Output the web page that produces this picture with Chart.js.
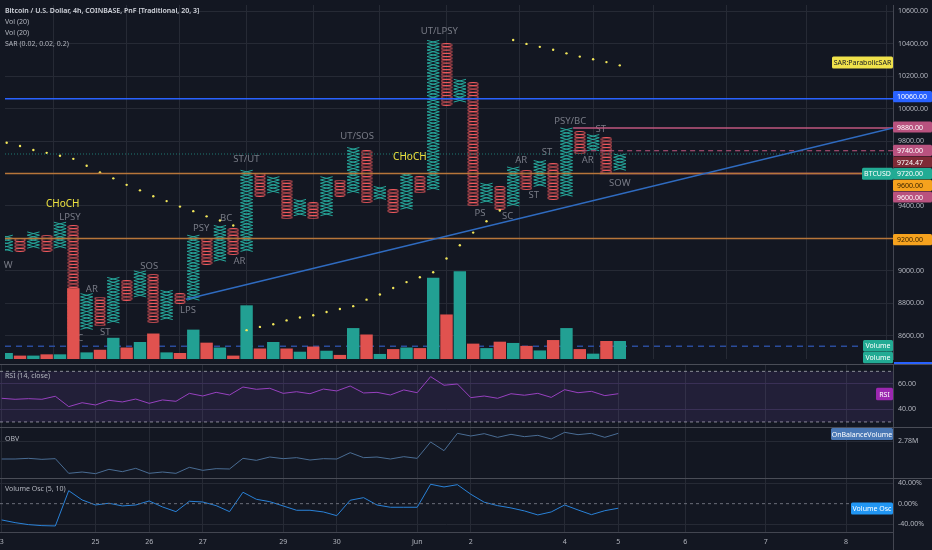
<!DOCTYPE html>
<html><head><meta charset="utf-8">
<script src="https://cdn.jsdelivr.net/npm/chart.js@4.4.1/dist/chart.umd.min.js"></script>
<style>
body{margin:0;background:#131722;overflow:hidden}
#wrap{position:relative;width:932px;height:550px;background:#131722}
canvas{position:absolute;left:0}
.sep{position:absolute;left:0;width:932px;height:1px;background:#4a4d57}
</style></head>
<body><div id="wrap">
<canvas id="cMain" width="932" height="364" style="top:0px"></canvas>
<canvas id="cRsi" width="932" height="63" style="top:364px"></canvas>
<canvas id="cObv" width="932" height="51" style="top:427px"></canvas>
<canvas id="cOsc" width="932" height="72" style="top:478px"></canvas>
<div class="sep" style="top:364px"></div>
<div class="sep" style="top:427px"></div>
<div class="sep" style="top:478px"></div>
<div style="position:absolute;left:893px;top:532px;width:1px;height:18px;background:#434651"></div>
</div>
<script>
// ---------------- DATA ----------------
const BOX = 20;
const colType = ['X','O','X','O','X','O','X','O','X','O','X','O','X','O','X','O','X','O','X','O','X','O','X','O','X','O','X','O','X','O','X','O','X','O','X','O','X','O','X','O','X','O','X','O','X','O','X'];
const colLow  = [9120,9120,9140,9120,9140,8620,8640,8660,8680,8820,8840,8680,8700,8800,8820,9040,9060,9100,9120,9460,9480,9320,9340,9320,9340,9460,9480,9420,9440,9360,9380,9480,9500,10020,10040,9400,9420,9380,9400,9500,9520,9440,9460,9720,9740,9600,9620];
const colHigh = [9220,9200,9240,9220,9300,9280,8860,8840,8960,8940,9000,8980,8880,8860,9220,9200,9280,9260,9620,9600,9580,9560,9440,9420,9580,9560,9760,9740,9520,9500,9600,9580,10420,10400,10180,10160,9540,9520,9640,9620,9680,9660,9880,9860,9840,9820,9720];
const volume  = [62,35,35,48,48,728,68,95,218,118,175,262,68,62,302,168,118,35,552,108,175,108,75,128,85,42,318,252,52,102,118,112,835,458,902,158,112,178,165,135,88,195,318,102,55,185,185];
const volMA = 130;
const sar = [9789,9769,9745,9727,9709,9690,9648,9607,9570,9530,9496,9460,9430,9396,9368,9336,9310,9280,
             8635,8655,8671,8695,8713,8727,8747,8765,8783,8823,8855,8895,8931,8961,8992,9076,9158,9236,9306,9372,
             10422,10398,10380,10362,10340,10320,10304,10286,10266];
const rsi = [48.7,47.9,48.4,47.9,50.3,42.1,45.2,43.4,47.1,45.8,48.1,44.7,47.4,46.3,52.6,50.5,53.4,51.3,57.6,55.8,
             56.6,52.6,53.9,52.3,56.0,54.5,58.4,52.9,53.4,51.3,55.3,53.1,65.8,59.0,60.0,49.2,50.5,48.7,52.3,51.1,
             52.6,49.4,55.5,53.1,54.2,50.8,52.3];
const obvM = [2.24,2.24,2.26,2.23,2.25,1.81,1.85,1.80,1.93,1.86,1.96,1.81,1.85,1.81,1.99,1.90,1.95,1.94,2.26,2.20,
              2.30,2.25,2.28,2.21,2.25,2.24,2.43,2.28,2.30,2.24,2.31,2.26,2.75,2.49,3.01,2.93,3.00,2.89,2.98,2.91,
              2.95,2.84,3.04,2.97,3.01,2.89,3.01];
const volOsc = [-32.0,-37.3,-41.2,-43.2,-43.8,25.5,7.3,-2.6,0.8,-4.5,-2.6,5.3,-6.5,-15.7,4.7,3.3,-3.9,-15.7,22.4,8.6,
                3.9,-4.5,-13.0,-13.0,-16.3,-23.6,6.7,11.8,-2.6,-7.1,-7.1,-7.1,38.1,32.8,37.3,18.5,2.8,-3.9,-8.4,-14.3,
                -22.2,-16.3,-2.6,-12.4,-21.6,-13.8,-9.0];
const tickIdx    = [0,7,11,15,21,25,31,35,42,46,51,57,63];
const tickLabels = ['3','25','26','27','29','30','Jun','2','4','5','6','7','8'];
const priceTicks = [8600,8800,9000,9200,9400,9600,9800,10000,10200,10400,10600];
const rsiTicks = [40,60];
const obvTicks = [2.78];
const oscTicks = [-40,0,40];
// horizontal levels: price, start column
const levelPrice = [10060,9600,9200,9880,9740,9600,9720];
const levelStart = [null,null,null,42.5,42.5,44.5,null];
const trendIdx = [13.45,66.5];
const trendPrice = [8825,9880];
const annText  = ['W','CHoCH','LPSY','AR','SC','ST','SOS','LPS','PSY','BC','AR','ST/UT','UT/SOS','CHoCH','UT/LPSY','PS','SC','AR','ST','ST','PSY/BC','ST','AR','SOW'];
const annIdx   = [0.12,4.2,4.75,6.39,5.32,7.39,10.69,13.6,14.6,16.46,17.46,17.99,26.29,30.25,32.46,35.52,37.58,38.6,39.55,40.54,42.28,44.57,43.6,46.0];
const annPrice = [9033,9410,9330,8887,8585,8621,9031,8757,9260,9326,9061,9685,9829,9703,10478,9354,9336,9684,9464,9733,9923,9873,9684,9540];

// ---------------- STYLE ----------------
const X_MIN = -0.127, X_MAX = 66.5;
const GRID = '#262a35', TXT = '#b2b5be', BORDER = '#434651';
const UP = '#26a69a', DN = '#ef5350';
const FONT = "'Noto Sans', sans-serif";
Chart.defaults.font.family = FONT;
Chart.defaults.animation = false;
Chart.defaults.events = [];
Chart.defaults.plugins.legend.display = false;
Chart.defaults.plugins.tooltip.enabled = false;

function xAxis(show){
  return {type:'linear', min:X_MIN, max:X_MAX, offset:false,
    grid:{color:GRID, drawTicks:false},
    border:{display:show, color:BORDER},
    ticks:{display:show, autoSkip:false, maxRotation:0, color:TXT, font:{size:7}, padding:6,
      callback:v=>{const k=tickIdx.indexOf(v); return k<0?'':tickLabels[k];}},
    afterBuildTicks:s=>{s.ticks = tickIdx.map(v=>({value:v}));},
    afterFit:s=>{s.height = show?18:0; s.paddingLeft=0; s.paddingRight=0; s.paddingTop=0; s.paddingBottom=0;}
  };
}
function yAxis(min,max,ticks,fmt,gridColor){
  return {position:'right', min, max,
    grid:{color:gridColor||GRID, drawTicks:false},
    border:{display:true, color:BORDER},
    ticks:{color:TXT, font:{size:7}, padding:5, callback:fmt},
    afterBuildTicks:s=>{s.ticks = ticks.map(v=>({value:v}));},
    afterFit:s=>{s.width=39; s.paddingTop=0; s.paddingBottom=0; s.paddingLeft=0; s.paddingRight=0;}
  };
}
function tag(ctx,x1,x2,yc,h,bg,fg,text,align){
  ctx.save();
  ctx.fillStyle=bg;
  ctx.beginPath();
  if(ctx.roundRect) ctx.roundRect(x1,yc-h/2,x2-x1,h,1.5); else ctx.rect(x1,yc-h/2,x2-x1,h);
  ctx.fill();
  ctx.fillStyle=fg; ctx.font='7px '+FONT; ctx.textBaseline='middle';
  if(align==='left'){ctx.textAlign='left'; ctx.fillText(text,x1+4,yc+0.5);}
  else {ctx.textAlign='center'; ctx.fillText(text,(x1+x2)/2,yc+0.5);}
  ctx.restore();
}
function paneTitle(ctx,text,y){
  ctx.save(); ctx.fillStyle=TXT; ctx.font='7px '+FONT; ctx.textBaseline='middle'; ctx.textAlign='left';
  ctx.fillText(text,5,y); ctx.restore();
}

// ---------------- BUILD P&F MARKS ----------------
const HALF = 0.46;
const zigA=[], zigB=[], oPts=[];
colType.forEach((t,i)=>{
  if(t==='X'){
    const n=(colHigh[i]-colLow[i])/BOX;
    for(let k=0;k<=n;k++){
      const y=colLow[i]+k*BOX, s=(k%2===0)?-1:1;
      zigA.push({x:i+s*HALF,y}); zigB.push({x:i-s*HALF,y});
    }
    zigA.push({x:i+0.5,y:null}); zigB.push({x:i+0.5,y:null});
  } else {
    for(let b=colLow[i]; b<colHigh[i]; b+=BOX) oPts.push({x:i,y:b+BOX/2});
  }
});
const oImg=document.createElement('canvas'); oImg.width=12; oImg.height=4;
(function(){const g=oImg.getContext('2d'); g.strokeStyle='#f05a5e'; g.lineWidth=1;
  g.beginPath(); g.ellipse(6,2,5.4,1.55,0,0,Math.PI*2); g.stroke();})();

const lineDs=(data,color,opt)=>Object.assign({type:'line',data,borderColor:color,borderWidth:1,pointRadius:0,fill:false,tension:0,spanGaps:false},opt||{});
const lvlColors = ['#2962ff','#b7763a','#b7763a','#c0577f','#c0577f','#c0577f','#1f7a72'];
const lvlDash   = [[],[],[],[],[5,4],[],[1,2]];
const lvlWidth  = [1.5,1.5,1.5,1.5,1,1.5,1];
const levelDs = levelPrice.map((p,k)=>lineDs([{x:levelStart[k]==null?X_MIN:levelStart[k],y:p},{x:X_MAX,y:p}],lvlColors[k],{borderDash:lvlDash[k],borderWidth:lvlWidth[k],order:0}));

// ---------------- MAIN CHART ----------------
const mainOverlay = {
  id:'mainOverlay',
  beforeDatasetsDraw(chart){
    const ctx=chart.ctx, xs=chart.scales.x, ys=chart.scales.y;
    ctx.save(); ctx.textAlign='center'; ctx.textBaseline='middle';
    annText.forEach((t,k)=>{
      const hl = t==='CHoCH';
      ctx.font=(hl?'10px ':'9.5px ')+FONT;
      ctx.fillStyle=hl?'#ece13f':'#787b86';
      ctx.fillText(t, xs.getPixelForValue(annIdx[k]), ys.getPixelForValue(annPrice[k]));
    });
    ctx.restore();
  },
  afterDraw(chart){
    const ctx=chart.ctx;
    ctx.save(); ctx.textAlign='left'; ctx.textBaseline='middle';
    ctx.font='600 7px '+FONT; ctx.fillStyle='#d1d4dc';
    ctx.fillText('Bitcoin / U.S. Dollar, 4h, COINBASE, PnF [Traditional, 20, 3]',5,10.7);
    ctx.font='7px '+FONT; ctx.fillStyle=TXT;
    ctx.fillText('Vol (20)',5,21.7); ctx.fillText('Vol (20)',5,32.7); ctx.fillText('SAR (0.02, 0.02, 0.2)',5,43.5);
    ctx.restore();
    tag(ctx,832,893,62.5,12,'#f0e24b','#131722','SAR:ParabolicSAR');
    tag(ctx,862,893,173.7,12,'#22ab94','#ffffff','BTCUSD');
    tag(ctx,863,893,345.8,11.5,'#22ab94','#ffffff','Volume');
    tag(ctx,863,893,357.6,11.5,'#22ab94','#ffffff','Volume');
    const ax=[[96.7,'#2962ff','#fff','10060.00'],[127,'#b9527f','#fff','9880.00'],[150.3,'#b9527f','#fff','9740.00'],
              [162,'#7e2a36','#fff','9724.47'],[173.7,'#22ab94','#fff','9720.00'],[185.3,'#f6a21e','#3a2500','9600.00'],
              [197,'#b9527f','#fff','9600.00'],[239.7,'#f6a21e','#3a2500','9200.00']];
    ax.forEach(a=>tag(ctx,893,932,a[0],11.2,a[1],a[2],a[3],'left'));
    ctx.fillStyle='#2962ff'; ctx.fillRect(894,362,38,2);
  }
};
new Chart(document.getElementById('cMain'),{
  type:'line',
  data:{datasets:[
    lineDs(zigA,UP,{order:3}),
    lineDs(zigB,UP,{order:3}),
    {type:'line',data:oPts,showLine:false,pointStyle:oImg,pointRadius:3,order:3},
    {type:'bar',data:volume.map((v,i)=>({x:i,y:v})),yAxisID:'yVol',
     backgroundColor:colType.map(t=>t==='X'?'#22a093':'#e0524f'),barPercentage:0.93,categoryPercentage:1.0,order:2},
    lineDs([{x:X_MIN,y:volMA},{x:63.9,y:volMA}],'#2b4c9b',{yAxisID:'yVol',borderDash:[6,5],borderWidth:1.5,order:2}),
    {type:'line',data:sar.map((v,i)=>({x:i,y:v})),showLine:false,pointRadius:1.2,pointBackgroundColor:'#f2e65a',pointBorderWidth:0,order:1},
    lineDs(trendIdx.map((x,k)=>({x,y:trendPrice[k]})),'#2f6bc0',{borderWidth:1.5,order:0}),
    ...levelDs
  ]},
  options:{responsive:false,maintainAspectRatio:false,layout:{padding:0},
    scales:{
      x:xAxis(false),
      y:yAxis(8457.4,10637.7,priceTicks,v=>(v===9200||v===9600)?'':v.toFixed(2)),
      yVol:{display:false,min:0,max:3640}
    }},
  plugins:[mainOverlay]
});

// ---------------- RSI ----------------
new Chart(document.getElementById('cRsi'),{
  type:'line',
  data:{datasets:[
    lineDs([{x:X_MIN,y:70},{x:X_MAX,y:70}],'#8a8d96',{borderDash:[3,3],fill:'+1',backgroundColor:'rgba(126,87,194,0.14)'}),
    lineDs([{x:X_MIN,y:30},{x:X_MAX,y:30}],'#8a8d96',{borderDash:[3,3]}),
    lineDs(rsi.map((v,i)=>({x:i,y:v})),'#9c3ec0')
  ]},
  options:{responsive:false,maintainAspectRatio:false,layout:{padding:0},
    scales:{x:xAxis(false), y:yAxis(26.0,75.8,rsiTicks,v=>v.toFixed(2),'#2f2a45')}},
  plugins:[{id:'rsiOv',afterDraw(c){paneTitle(c.ctx,'RSI (14, close)',11.7); tag(c.ctx,876,893,30,12.5,'#9c27b0','#fff','RSI');}}]
});

// ---------------- OBV ----------------
new Chart(document.getElementById('cObv'),{
  type:'line',
  data:{datasets:[ lineDs(obvM.map((v,i)=>({x:i,y:v})),'#4a6d94') ]},
  options:{responsive:false,maintainAspectRatio:false,layout:{padding:0},
    scales:{x:xAxis(false), y:yAxis(1.67,3.2,obvTicks,v=>v.toFixed(2)+'M')}},
  plugins:[{id:'obvOv',afterDraw(c){paneTitle(c.ctx,'OBV',12); tag(c.ctx,831,893,7,12,'#4a78b5','#fff','OnBalanceVolume');}}]
});

// ---------------- VOLUME OSC ----------------
new Chart(document.getElementById('cOsc'),{
  type:'line',
  data:{datasets:[
    lineDs([{x:X_MIN,y:0},{x:X_MAX,y:0}],'#6a6d78',{borderDash:[3,3]}),
    lineDs(volOsc.map((v,i)=>({x:i,y:v})),'#2a82d8')
  ]},
  options:{responsive:false,maintainAspectRatio:false,layout:{padding:0},
    scales:{x:xAxis(true), y:Object.assign(yAxis(-55.7,50.4,oscTicks,v=>v.toFixed(2)+'%'),{grid:{drawTicks:false,color:c=>c.tick&&c.tick.value===0?'rgba(0,0,0,0)':GRID}})}},
  plugins:[{id:'oscOv',afterDraw(c){paneTitle(c.ctx,'Volume Osc (5, 10)',11.3); tag(c.ctx,851,893,30.5,12,'#2196f3','#fff','Volume Osc');}}]
});
</script>
</body></html>
